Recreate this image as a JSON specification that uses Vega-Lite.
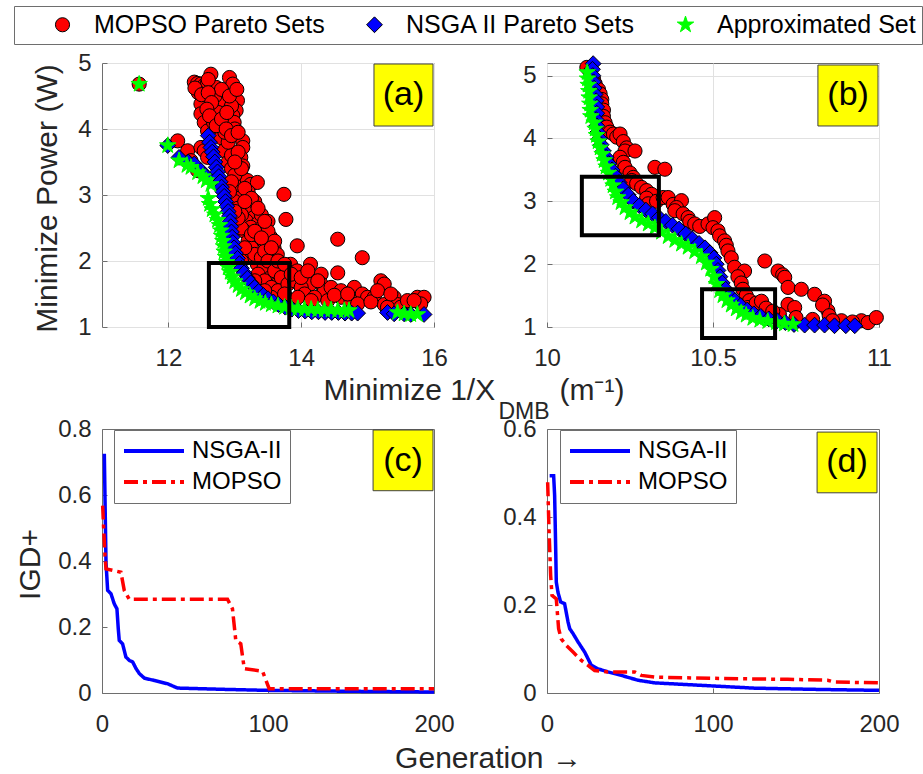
{
  "$schema": "https://vega.github.io/schema/vega-lite/v6.json",
  "background": "white",
  "padding": {"left": 13, "top": 5, "right": 0, "bottom": 0},
  "bounds": "flush",
  "columns": 2,
  "spacing": {"row": 102, "column": 113},
  "resolve": {"scale": {"color": "independent", "shape": "independent", "size": "independent", "stroke": "independent", "strokeDash": "independent"}},
  "config": {
    "font": "Liberation Sans",
    "view": {"stroke": "#6e6e6e", "strokeWidth": 1},
    "axis": {"domain": false, "grid": false, "gridColor": "#e1e1e1", "gridWidth": 1, "labelFont": "Liberation Sans", "labelFontSize": 24, "labelColor": "#262626", "labelFlush": false, "labelOverlap": false, "tickColor": "#6e6e6e", "tickSize": -5, "tickWidth": 1, "titleFont": "Liberation Sans", "titleFontSize": 30, "titleFontWeight": "normal", "titleColor": "#262626"},
    "axisX": {"labelPadding": 24},
    "axisY": {"labelPadding": 16}
  },
  "datasets": {
    "pa": [
      {"x":11.56,"y":4.68,"s":"M"},{"x":12.39,"y":4.71,"s":"M"},{"x":12.44,"y":4.69,"s":"M"},{"x":12.49,"y":4.68,"s":"M"},{"x":12.54,"y":4.66,"s":"M"},{"x":12.64,"y":4.83,"s":"M"},{"x":12.59,"y":4.70,"s":"M"},{"x":12.72,"y":4.63,"s":"M"},{"x":12.77,"y":4.43,"s":"M"},{"x":12.92,"y":4.78,"s":"M"},{"x":12.97,"y":4.68,"s":"M"},{"x":13.04,"y":4.43,"s":"M"},{"x":13.02,"y":4.28,"s":"M"},{"x":12.49,"y":4.38,"s":"M"},{"x":12.49,"y":4.23,"s":"M"},{"x":12.54,"y":4.10,"s":"M"},{"x":12.97,"y":4.20,"s":"M"},{"x":12.99,"y":4.10,"s":"M"},{"x":12.59,"y":3.97,"s":"M"},{"x":12.64,"y":3.87,"s":"M"},{"x":12.79,"y":3.87,"s":"M"},{"x":13.12,"y":3.82,"s":"M"},{"x":13.12,"y":3.72,"s":"M"},{"x":12.84,"y":3.67,"s":"M"},{"x":13.09,"y":3.57,"s":"M"},{"x":13.12,"y":3.44,"s":"M"},{"x":13.09,"y":3.32,"s":"M"},{"x":13.04,"y":3.22,"s":"M"},{"x":13.19,"y":3.22,"s":"M"},{"x":13.24,"y":3.16,"s":"M"},{"x":13.34,"y":3.19,"s":"M"},{"x":12.99,"y":3.06,"s":"M"},{"x":13.09,"y":2.96,"s":"M"},{"x":13.19,"y":2.86,"s":"M"},{"x":13.24,"y":2.76,"s":"M"},{"x":13.29,"y":2.66,"s":"M"},{"x":13.17,"y":2.61,"s":"M"},{"x":13.34,"y":2.56,"s":"M"},{"x":13.24,"y":2.51,"s":"M"},{"x":13.34,"y":2.36,"s":"M"},{"x":13.44,"y":2.30,"s":"M"},{"x":13.54,"y":2.36,"s":"M"},{"x":13.59,"y":2.20,"s":"M"},{"x":13.64,"y":2.10,"s":"M"},{"x":13.74,"y":3.01,"s":"M"},{"x":13.77,"y":2.63,"s":"M"},{"x":13.94,"y":2.23,"s":"M"},{"x":14.55,"y":2.33,"s":"M"},{"x":14.92,"y":2.05,"s":"M"},{"x":13.19,"y":2.05,"s":"M"},{"x":13.34,"y":1.95,"s":"M"},{"x":13.44,"y":1.90,"s":"M"},{"x":13.54,"y":1.75,"s":"M"},{"x":13.64,"y":1.65,"s":"M"},{"x":13.74,"y":1.85,"s":"M"},{"x":13.84,"y":1.95,"s":"M"},{"x":13.94,"y":1.85,"s":"M"},{"x":14.14,"y":1.95,"s":"M"},{"x":14.30,"y":1.80,"s":"M"},{"x":14.55,"y":1.82,"s":"M"},{"x":14.30,"y":1.65,"s":"M"},{"x":14.14,"y":1.65,"s":"M"},{"x":14.35,"y":1.55,"s":"M"},{"x":14.80,"y":1.60,"s":"M"},{"x":14.92,"y":1.50,"s":"M"},{"x":15.00,"y":1.45,"s":"M"},{"x":15.20,"y":1.70,"s":"M"},{"x":15.25,"y":1.65,"s":"M"},{"x":15.10,"y":1.45,"s":"M"},{"x":15.25,"y":1.34,"s":"M"},{"x":15.40,"y":1.45,"s":"M"},{"x":15.45,"y":1.34,"s":"M"},{"x":15.75,"y":1.45,"s":"M"},{"x":15.85,"y":1.45,"s":"M"},{"x":12.14,"y":3.82,"s":"M"},{"x":12.29,"y":3.67,"s":"M"},{"x":12.34,"y":3.52,"s":"M"},{"x":12.44,"y":3.37,"s":"M"},{"x":12.49,"y":3.72,"s":"M"},{"x":12.54,"y":3.67,"s":"M"},{"x":12.59,"y":3.57,"s":"M"},{"x":12.90,"y":3.50,"s":"M"},{"x":12.95,"y":3.40,"s":"M"},{"x":13.00,"y":3.30,"s":"M"},{"x":12.95,"y":3.60,"s":"M"},{"x":12.90,"y":3.80,"s":"M"},{"x":12.85,"y":3.95,"s":"M"},{"x":13.00,"y":2.90,"s":"M"},{"x":13.05,"y":2.80,"s":"M"},{"x":13.10,"y":2.70,"s":"M"},{"x":13.15,"y":2.45,"s":"M"},{"x":13.20,"y":2.30,"s":"M"},{"x":13.25,"y":2.20,"s":"M"},{"x":13.30,"y":2.10,"s":"M"},{"x":13.40,"y":2.05,"s":"M"},{"x":13.10,"y":2.50,"s":"M"},{"x":13.05,"y":2.65,"s":"M"},{"x":13.00,"y":2.75,"s":"M"},{"x":13.25,"y":2.40,"s":"M"},{"x":13.45,"y":2.15,"s":"M"},{"x":13.50,"y":2.00,"s":"M"},{"x":13.35,"y":1.80,"s":"M"},{"x":13.45,"y":1.70,"s":"M"},{"x":13.55,"y":1.60,"s":"M"},{"x":13.60,"y":1.85,"s":"M"},{"x":13.70,"y":1.75,"s":"M"},{"x":13.65,"y":1.55,"s":"M"},{"x":13.80,"y":1.65,"s":"M"},{"x":13.90,"y":1.70,"s":"M"},{"x":14.00,"y":1.60,"s":"M"},{"x":14.05,"y":1.50,"s":"M"},{"x":14.20,"y":1.45,"s":"M"},{"x":14.40,"y":1.40,"s":"M"},{"x":14.60,"y":1.45,"s":"M"},{"x":14.75,"y":1.40,"s":"M"},{"x":14.85,"y":1.35,"s":"M"},{"x":15.05,"y":1.38,"s":"M"},{"x":15.30,"y":1.30,"s":"M"},{"x":15.50,"y":1.30,"s":"M"},{"x":15.80,"y":1.35,"s":"M"},{"x":13.00,"y":4.00,"s":"M"},{"x":12.95,"y":4.35,"s":"M"},{"x":12.75,"y":4.25,"s":"M"},{"x":12.70,"y":4.50,"s":"M"},{"x":12.68,"y":4.10,"s":"M"},{"x":12.80,"y":4.60,"s":"M"},{"x":12.60,"y":4.75,"s":"M"},{"x":12.45,"y":4.55,"s":"M"},{"x":13.10,"y":3.40,"s":"M"},{"x":13.20,"y":3.05,"s":"M"},{"x":13.30,"y":2.90,"s":"M"},{"x":13.40,"y":2.70,"s":"M"},{"x":13.50,"y":2.60,"s":"M"},{"x":13.40,"y":2.50,"s":"M"},{"x":13.15,"y":2.20,"s":"M"},{"x":13.10,"y":2.00,"s":"M"},{"x":13.30,"y":1.70,"s":"M"},{"x":13.50,"y":2.45,"s":"M"},{"x":13.60,"y":2.30,"s":"M"},{"x":12.40,"y":4.62,"s":"M"},{"x":12.50,"y":4.52,"s":"M"},{"x":12.60,"y":4.55,"s":"M"},{"x":12.65,"y":4.40,"s":"M"},{"x":12.58,"y":4.30,"s":"M"},{"x":12.62,"y":4.20,"s":"M"},{"x":12.72,"y":4.05,"s":"M"},{"x":12.80,"y":4.15,"s":"M"},{"x":12.88,"y":4.25,"s":"M"},{"x":12.92,"y":4.50,"s":"M"},{"x":13.03,"y":4.60,"s":"M"},{"x":12.87,"y":4.00,"s":"M"},{"x":12.95,"y":3.90,"s":"M"},{"x":13.05,"y":3.95,"s":"M"},{"x":13.05,"y":3.65,"s":"M"},{"x":13.00,"y":3.50,"s":"M"},{"x":12.95,"y":3.20,"s":"M"},{"x":12.92,"y":3.05,"s":"M"},{"x":13.15,"y":3.10,"s":"M"},{"x":13.25,"y":2.95,"s":"M"},{"x":13.15,"y":2.90,"s":"M"},{"x":13.35,"y":2.80,"s":"M"},{"x":13.45,"y":2.60,"s":"M"},{"x":13.30,"y":2.45,"s":"M"},{"x":13.40,"y":2.35,"s":"M"},{"x":13.55,"y":2.20,"s":"M"},{"x":13.65,"y":2.00,"s":"M"},{"x":13.75,"y":1.95,"s":"M"},{"x":13.85,"y":1.80,"s":"M"},{"x":14.00,"y":1.75,"s":"M"},{"x":14.10,"y":1.85,"s":"M"},{"x":14.25,"y":1.70,"s":"M"},{"x":14.45,"y":1.60,"s":"M"},{"x":14.60,"y":1.55,"s":"M"},{"x":14.50,"y":1.48,"s":"M"},{"x":14.70,"y":1.50,"s":"M"},{"x":15.15,"y":1.55,"s":"M"},{"x":15.35,"y":1.50,"s":"M"},{"x":15.60,"y":1.40,"s":"M"},{"x":15.70,"y":1.40,"s":"M"},{"x":13.55,"y":1.45,"s":"M"},{"x":13.75,"y":1.50,"s":"M"},{"x":13.45,"y":1.55,"s":"M"},{"x":13.95,"y":1.45,"s":"M"},{"x":14.15,"y":1.40,"s":"M"},
      {"x":11.99,"y":3.75,"s":"N"},{"x":12.16,"y":3.57,"s":"N"},{"x":12.30,"y":3.50,"s":"N"},{"x":12.39,"y":3.47,"s":"N"},{"x":12.49,"y":3.37,"s":"N"},{"x":12.55,"y":3.30,"s":"N"},{"x":12.60,"y":3.90,"s":"N"},{"x":12.62,"y":3.80,"s":"N"},{"x":12.64,"y":3.72,"s":"N"},{"x":12.66,"y":3.65,"s":"N"},{"x":12.68,"y":3.58,"s":"N"},{"x":12.70,"y":3.50,"s":"N"},{"x":12.72,"y":3.42,"s":"N"},{"x":12.74,"y":3.35,"s":"N"},{"x":12.76,"y":3.28,"s":"N"},{"x":12.78,"y":3.20,"s":"N"},{"x":12.80,"y":3.12,"s":"N"},{"x":12.82,"y":3.05,"s":"N"},{"x":12.84,"y":2.98,"s":"N"},{"x":12.86,"y":2.90,"s":"N"},{"x":12.88,"y":2.83,"s":"N"},{"x":12.90,"y":2.75,"s":"N"},{"x":12.92,"y":2.68,"s":"N"},{"x":12.93,"y":2.60,"s":"N"},{"x":12.94,"y":2.52,"s":"N"},{"x":12.95,"y":2.44,"s":"N"},{"x":12.96,"y":2.36,"s":"N"},{"x":12.97,"y":2.28,"s":"N"},{"x":12.99,"y":2.20,"s":"N"},{"x":13.01,"y":2.12,"s":"N"},{"x":13.04,"y":2.04,"s":"N"},{"x":13.07,"y":1.96,"s":"N"},{"x":13.10,"y":1.89,"s":"N"},{"x":13.14,"y":1.82,"s":"N"},{"x":13.19,"y":1.74,"s":"N"},{"x":13.24,"y":1.67,"s":"N"},{"x":13.30,"y":1.60,"s":"N"},{"x":13.36,"y":1.54,"s":"N"},{"x":13.43,"y":1.48,"s":"N"},{"x":13.50,"y":1.43,"s":"N"},{"x":13.58,"y":1.38,"s":"N"},{"x":13.66,"y":1.34,"s":"N"},{"x":13.76,"y":1.30,"s":"N"},{"x":13.86,"y":1.27,"s":"N"},{"x":13.96,"y":1.25,"s":"N"},{"x":14.06,"y":1.24,"s":"N"},{"x":14.16,"y":1.23,"s":"N"},{"x":14.26,"y":1.23,"s":"N"},{"x":14.36,"y":1.22,"s":"N"},{"x":14.46,"y":1.22,"s":"N"},{"x":14.56,"y":1.22,"s":"N"},{"x":14.66,"y":1.21,"s":"N"},{"x":14.76,"y":1.21,"s":"N"},{"x":14.85,"y":1.21,"s":"N"},{"x":15.30,"y":1.22,"s":"N"},{"x":15.40,"y":1.20,"s":"N"},{"x":15.55,"y":1.20,"s":"N"},{"x":15.65,"y":1.19,"s":"N"},{"x":15.85,"y":1.19,"s":"N"},
      {"x":11.56,"y":4.68,"s":"A"},{"x":11.99,"y":3.75,"s":"A"},{"x":12.16,"y":3.52,"s":"A"},{"x":12.28,"y":3.45,"s":"A"},{"x":12.34,"y":3.42,"s":"A"},{"x":12.44,"y":3.34,"s":"A"},{"x":12.52,"y":3.28,"s":"A"},{"x":12.57,"y":3.22,"s":"A"},{"x":12.64,"y":3.16,"s":"A"},{"x":12.60,"y":2.95,"s":"A"},{"x":12.62,"y":2.86,"s":"A"},{"x":12.66,"y":2.78,"s":"A"},{"x":12.70,"y":2.70,"s":"A"},{"x":12.74,"y":2.62,"s":"A"},{"x":12.77,"y":2.54,"s":"A"},{"x":12.79,"y":2.46,"s":"A"},{"x":12.80,"y":2.38,"s":"A"},{"x":12.82,"y":2.30,"s":"A"},{"x":12.83,"y":2.22,"s":"A"},{"x":12.84,"y":2.14,"s":"A"},{"x":12.86,"y":2.06,"s":"A"},{"x":12.88,"y":1.98,"s":"A"},{"x":12.90,"y":1.90,"s":"A"},{"x":12.93,"y":1.83,"s":"A"},{"x":12.96,"y":1.76,"s":"A"},{"x":13.00,"y":1.69,"s":"A"},{"x":13.05,"y":1.63,"s":"A"},{"x":13.10,"y":1.57,"s":"A"},{"x":13.16,"y":1.52,"s":"A"},{"x":13.23,"y":1.47,"s":"A"},{"x":13.30,"y":1.43,"s":"A"},{"x":13.38,"y":1.39,"s":"A"},{"x":13.46,"y":1.36,"s":"A"},{"x":13.55,"y":1.34,"s":"A"},{"x":13.65,"y":1.32,"s":"A"},{"x":13.75,"y":1.30,"s":"A"},{"x":13.85,"y":1.29,"s":"A"},{"x":13.95,"y":1.28,"s":"A"},{"x":14.05,"y":1.27,"s":"A"},{"x":14.15,"y":1.27,"s":"A"},{"x":14.25,"y":1.26,"s":"A"},{"x":14.35,"y":1.26,"s":"A"},{"x":14.45,"y":1.26,"s":"A"},{"x":14.55,"y":1.25,"s":"A"},{"x":14.65,"y":1.25,"s":"A"},{"x":14.72,"y":1.25,"s":"A"},{"x":15.45,"y":1.22,"s":"A"},{"x":15.55,"y":1.20,"s":"A"},{"x":15.65,"y":1.19,"s":"A"},{"x":15.75,"y":1.19,"s":"A"}
    ],
    "pb": [
      {"x":10.120,"y":5.13,"s":"M"},{"x":10.130,"y":5.05,"s":"M"},{"x":10.140,"y":4.95,"s":"M"},{"x":10.145,"y":4.87,"s":"M"},{"x":10.155,"y":4.78,"s":"M"},{"x":10.160,"y":4.71,"s":"M"},{"x":10.165,"y":4.62,"s":"M"},{"x":10.165,"y":4.55,"s":"M"},{"x":10.170,"y":4.45,"s":"M"},{"x":10.170,"y":4.35,"s":"M"},{"x":10.175,"y":4.25,"s":"M"},{"x":10.180,"y":4.18,"s":"M"},{"x":10.190,"y":4.10,"s":"M"},{"x":10.200,"y":4.07,"s":"M"},{"x":10.210,"y":4.02,"s":"M"},{"x":10.220,"y":4.07,"s":"M"},{"x":10.230,"y":3.95,"s":"M"},{"x":10.240,"y":3.85,"s":"M"},{"x":10.235,"y":3.80,"s":"M"},{"x":10.265,"y":3.80,"s":"M"},{"x":10.220,"y":3.70,"s":"M"},{"x":10.230,"y":3.62,"s":"M"},{"x":10.235,"y":3.54,"s":"M"},{"x":10.325,"y":3.54,"s":"M"},{"x":10.355,"y":3.51,"s":"M"},{"x":10.250,"y":3.45,"s":"M"},{"x":10.260,"y":3.38,"s":"M"},{"x":10.255,"y":3.33,"s":"M"},{"x":10.270,"y":3.28,"s":"M"},{"x":10.285,"y":3.22,"s":"M"},{"x":10.300,"y":3.17,"s":"M"},{"x":10.315,"y":3.11,"s":"M"},{"x":10.300,"y":3.05,"s":"M"},{"x":10.305,"y":2.96,"s":"M"},{"x":10.330,"y":3.00,"s":"M"},{"x":10.350,"y":3.06,"s":"M"},{"x":10.365,"y":3.06,"s":"M"},{"x":10.380,"y":2.95,"s":"M"},{"x":10.405,"y":3.01,"s":"M"},{"x":10.390,"y":2.90,"s":"M"},{"x":10.385,"y":2.85,"s":"M"},{"x":10.410,"y":2.80,"s":"M"},{"x":10.425,"y":2.74,"s":"M"},{"x":10.430,"y":2.68,"s":"M"},{"x":10.445,"y":2.64,"s":"M"},{"x":10.460,"y":2.60,"s":"M"},{"x":10.485,"y":2.64,"s":"M"},{"x":10.505,"y":2.74,"s":"M"},{"x":10.500,"y":2.58,"s":"M"},{"x":10.515,"y":2.53,"s":"M"},{"x":10.520,"y":2.45,"s":"M"},{"x":10.535,"y":2.37,"s":"M"},{"x":10.540,"y":2.30,"s":"M"},{"x":10.545,"y":2.21,"s":"M"},{"x":10.555,"y":2.10,"s":"M"},{"x":10.565,"y":1.95,"s":"M"},{"x":10.595,"y":1.89,"s":"M"},{"x":10.575,"y":1.80,"s":"M"},{"x":10.585,"y":1.70,"s":"M"},{"x":10.590,"y":1.60,"s":"M"},{"x":10.600,"y":1.50,"s":"M"},{"x":10.610,"y":1.42,"s":"M"},{"x":10.575,"y":1.36,"s":"M"},{"x":10.605,"y":1.31,"s":"M"},{"x":10.630,"y":1.38,"s":"M"},{"x":10.646,"y":1.41,"s":"M"},{"x":10.660,"y":1.30,"s":"M"},{"x":10.656,"y":2.05,"s":"M"},{"x":10.696,"y":1.89,"s":"M"},{"x":10.710,"y":1.83,"s":"M"},{"x":10.716,"y":1.79,"s":"M"},{"x":10.726,"y":1.63,"s":"M"},{"x":10.726,"y":1.36,"s":"M"},{"x":10.746,"y":1.31,"s":"M"},{"x":10.766,"y":1.60,"s":"M"},{"x":10.806,"y":1.52,"s":"M"},{"x":10.836,"y":1.41,"s":"M"},{"x":10.846,"y":1.26,"s":"M"},{"x":10.830,"y":1.35,"s":"M"},{"x":10.850,"y":1.18,"s":"M"},{"x":10.887,"y":1.10,"s":"M"},{"x":10.947,"y":1.10,"s":"M"},{"x":10.967,"y":1.07,"s":"M"},{"x":10.992,"y":1.15,"s":"M"},{"x":10.920,"y":1.08,"s":"M"},{"x":10.860,"y":1.10,"s":"M"},{"x":10.800,"y":1.12,"s":"M"},{"x":10.750,"y":1.15,"s":"M"},{"x":10.700,"y":1.20,"s":"M"},{"x":10.680,"y":1.25,"s":"M"},
      {"x":10.139,"y":5.19,"s":"N"},{"x":10.137,"y":5.10,"s":"N"},{"x":10.138,"y":5.00,"s":"N"},{"x":10.140,"y":4.90,"s":"N"},{"x":10.142,"y":4.80,"s":"N"},{"x":10.145,"y":4.70,"s":"N"},{"x":10.148,"y":4.60,"s":"N"},{"x":10.150,"y":4.50,"s":"N"},{"x":10.150,"y":4.40,"s":"N"},{"x":10.148,"y":4.30,"s":"N"},{"x":10.150,"y":4.20,"s":"N"},{"x":10.153,"y":4.10,"s":"N"},{"x":10.158,"y":4.00,"s":"N"},{"x":10.163,"y":3.90,"s":"N"},{"x":10.170,"y":3.80,"s":"N"},{"x":10.178,"y":3.70,"s":"N"},{"x":10.186,"y":3.60,"s":"N"},{"x":10.196,"y":3.50,"s":"N"},{"x":10.206,"y":3.40,"s":"N"},{"x":10.217,"y":3.30,"s":"N"},{"x":10.230,"y":3.20,"s":"N"},{"x":10.245,"y":3.10,"s":"N"},{"x":10.260,"y":3.00,"s":"N"},{"x":10.278,"y":2.93,"s":"N"},{"x":10.298,"y":2.86,"s":"N"},{"x":10.318,"y":2.80,"s":"N"},{"x":10.338,"y":2.74,"s":"N"},{"x":10.358,"y":2.68,"s":"N"},{"x":10.378,"y":2.62,"s":"N"},{"x":10.398,"y":2.56,"s":"N"},{"x":10.418,"y":2.48,"s":"N"},{"x":10.438,"y":2.40,"s":"N"},{"x":10.458,"y":2.33,"s":"N"},{"x":10.476,"y":2.26,"s":"N"},{"x":10.491,"y":2.18,"s":"N"},{"x":10.503,"y":2.10,"s":"N"},{"x":10.510,"y":2.00,"s":"N"},{"x":10.515,"y":1.90,"s":"N"},{"x":10.521,"y":1.80,"s":"N"},{"x":10.528,"y":1.70,"s":"N"},{"x":10.538,"y":1.60,"s":"N"},{"x":10.551,"y":1.50,"s":"N"},{"x":10.566,"y":1.42,"s":"N"},{"x":10.583,"y":1.34,"s":"N"},{"x":10.603,"y":1.27,"s":"N"},{"x":10.623,"y":1.21,"s":"N"},{"x":10.644,"y":1.17,"s":"N"},{"x":10.668,"y":1.13,"s":"N"},{"x":10.694,"y":1.10,"s":"N"},{"x":10.718,"y":1.07,"s":"N"},{"x":10.744,"y":1.04,"s":"N"},{"x":10.776,"y":1.03,"s":"N"},{"x":10.806,"y":1.03,"s":"N"},{"x":10.836,"y":1.03,"s":"N"},{"x":10.866,"y":1.02,"s":"N"},{"x":10.900,"y":1.02,"s":"N"},{"x":10.927,"y":1.02,"s":"N"},
      {"x":10.121,"y":5.05,"s":"A"},{"x":10.122,"y":4.95,"s":"A"},{"x":10.124,"y":4.85,"s":"A"},{"x":10.126,"y":4.75,"s":"A"},{"x":10.127,"y":4.65,"s":"A"},{"x":10.129,"y":4.55,"s":"A"},{"x":10.130,"y":4.45,"s":"A"},{"x":10.132,"y":4.35,"s":"A"},{"x":10.142,"y":4.25,"s":"A"},{"x":10.145,"y":4.15,"s":"A"},{"x":10.149,"y":4.05,"s":"A"},{"x":10.154,"y":3.95,"s":"A"},{"x":10.160,"y":3.85,"s":"A"},{"x":10.166,"y":3.75,"s":"A"},{"x":10.172,"y":3.65,"s":"A"},{"x":10.178,"y":3.55,"s":"A"},{"x":10.185,"y":3.45,"s":"A"},{"x":10.192,"y":3.35,"s":"A"},{"x":10.199,"y":3.25,"s":"A"},{"x":10.206,"y":3.15,"s":"A"},{"x":10.213,"y":3.06,"s":"A"},{"x":10.223,"y":2.98,"s":"A"},{"x":10.235,"y":2.90,"s":"A"},{"x":10.250,"y":2.82,"s":"A"},{"x":10.265,"y":2.75,"s":"A"},{"x":10.285,"y":2.69,"s":"A"},{"x":10.305,"y":2.64,"s":"A"},{"x":10.325,"y":2.58,"s":"A"},{"x":10.345,"y":2.51,"s":"A"},{"x":10.365,"y":2.44,"s":"A"},{"x":10.385,"y":2.38,"s":"A"},{"x":10.405,"y":2.32,"s":"A"},{"x":10.425,"y":2.27,"s":"A"},{"x":10.445,"y":2.20,"s":"A"},{"x":10.465,"y":2.12,"s":"A"},{"x":10.480,"y":2.02,"s":"A"},{"x":10.493,"y":1.92,"s":"A"},{"x":10.503,"y":1.80,"s":"A"},{"x":10.510,"y":1.68,"s":"A"},{"x":10.520,"y":1.58,"s":"A"},{"x":10.530,"y":1.50,"s":"A"},{"x":10.542,"y":1.42,"s":"A"},{"x":10.555,"y":1.35,"s":"A"},{"x":10.570,"y":1.29,"s":"A"},{"x":10.585,"y":1.23,"s":"A"},{"x":10.600,"y":1.19,"s":"A"},{"x":10.620,"y":1.14,"s":"A"},{"x":10.641,"y":1.11,"s":"A"},{"x":10.665,"y":1.09,"s":"A"},{"x":10.691,"y":1.07,"s":"A"},{"x":10.715,"y":1.05,"s":"A"},{"x":10.741,"y":1.04,"s":"A"}
    ],
    "lc": [
      {"g":1.4,"v":0.725,"a":"NSGA-II"},{"g":2.4,"v":0.397,"a":"NSGA-II"},{"g":3.4,"v":0.311,"a":"NSGA-II"},{"g":5.4,"v":0.301,"a":"NSGA-II"},{"g":7.4,"v":0.27,"a":"NSGA-II"},{"g":9.0,"v":0.255,"a":"NSGA-II"},{"g":9.8,"v":0.195,"a":"NSGA-II"},{"g":10.4,"v":0.159,"a":"NSGA-II"},{"g":12.4,"v":0.149,"a":"NSGA-II"},{"g":14.4,"v":0.109,"a":"NSGA-II"},{"g":16.4,"v":0.099,"a":"NSGA-II"},{"g":18.5,"v":0.094,"a":"NSGA-II"},{"g":20.5,"v":0.074,"a":"NSGA-II"},{"g":22.5,"v":0.059,"a":"NSGA-II"},{"g":25.5,"v":0.045,"a":"NSGA-II"},{"g":31.5,"v":0.038,"a":"NSGA-II"},{"g":39.5,"v":0.028,"a":"NSGA-II"},{"g":45.5,"v":0.015,"a":"NSGA-II"},{"g":73.6,"v":0.011,"a":"NSGA-II"},{"g":99.7,"v":0.008,"a":"NSGA-II"},{"g":154,"v":0.005,"a":"NSGA-II"},{"g":200,"v":0.003,"a":"NSGA-II"},
      {"g":0.4,"v":0.568,"a":"MOPSO"},{"g":1.0,"v":0.497,"a":"MOPSO"},{"g":1.8,"v":0.417,"a":"MOPSO"},{"g":2.4,"v":0.376,"a":"MOPSO"},{"g":11.4,"v":0.366,"a":"MOPSO"},{"g":13.4,"v":0.311,"a":"MOPSO"},{"g":16.4,"v":0.284,"a":"MOPSO"},{"g":75.6,"v":0.284,"a":"MOPSO"},{"g":78.6,"v":0.255,"a":"MOPSO"},{"g":80.6,"v":0.159,"a":"MOPSO"},{"g":83.6,"v":0.149,"a":"MOPSO"},{"g":85.7,"v":0.074,"a":"MOPSO"},{"g":96.7,"v":0.066,"a":"MOPSO"},{"g":100.7,"v":0.013,"a":"MOPSO"},{"g":200,"v":0.013,"a":"MOPSO"}
    ],
    "ld": [
      {"g":1.6,"v":0.494,"a":"NSGA-II"},{"g":4.0,"v":0.494,"a":"NSGA-II"},{"g":4.6,"v":0.449,"a":"NSGA-II"},{"g":5.2,"v":0.335,"a":"NSGA-II"},{"g":5.6,"v":0.252,"a":"NSGA-II"},{"g":6.6,"v":0.229,"a":"NSGA-II"},{"g":8.2,"v":0.207,"a":"NSGA-II"},{"g":10.6,"v":0.203,"a":"NSGA-II"},{"g":12.7,"v":0.161,"a":"NSGA-II"},{"g":13.7,"v":0.146,"a":"NSGA-II"},{"g":15.7,"v":0.135,"a":"NSGA-II"},{"g":18.7,"v":0.116,"a":"NSGA-II"},{"g":22.7,"v":0.093,"a":"NSGA-II"},{"g":26.7,"v":0.063,"a":"NSGA-II"},{"g":30.7,"v":0.055,"a":"NSGA-II"},{"g":36.7,"v":0.048,"a":"NSGA-II"},{"g":44.8,"v":0.040,"a":"NSGA-II"},{"g":54.8,"v":0.029,"a":"NSGA-II"},{"g":64.9,"v":0.023,"a":"NSGA-II"},{"g":84.9,"v":0.019,"a":"NSGA-II"},{"g":105,"v":0.015,"a":"NSGA-II"},{"g":125,"v":0.011,"a":"NSGA-II"},{"g":165,"v":0.008,"a":"NSGA-II"},{"g":200,"v":0.006,"a":"NSGA-II"},
      {"g":0.4,"v":0.479,"a":"MOPSO"},{"g":1.2,"v":0.373,"a":"MOPSO"},{"g":2.2,"v":0.267,"a":"MOPSO"},{"g":3.0,"v":0.222,"a":"MOPSO"},{"g":5.6,"v":0.214,"a":"MOPSO"},{"g":7.0,"v":0.146,"a":"MOPSO"},{"g":8.6,"v":0.123,"a":"MOPSO"},{"g":11.6,"v":0.108,"a":"MOPSO"},{"g":15.7,"v":0.093,"a":"MOPSO"},{"g":20.7,"v":0.074,"a":"MOPSO"},{"g":24.7,"v":0.063,"a":"MOPSO"},{"g":28.7,"v":0.051,"a":"MOPSO"},{"g":36.7,"v":0.048,"a":"MOPSO"},{"g":52.8,"v":0.048,"a":"MOPSO"},{"g":56.8,"v":0.040,"a":"MOPSO"},{"g":64.9,"v":0.036,"a":"MOPSO"},{"g":105,"v":0.033,"a":"MOPSO"},{"g":145,"v":0.031,"a":"MOPSO"},{"g":169,"v":0.029,"a":"MOPSO"},{"g":173,"v":0.025,"a":"MOPSO"},{"g":200,"v":0.023,"a":"MOPSO"}
    ]
  },
  "concat": [
    {
      "width": 332, "height": 264,
      "layer": [
        {
          "data": {"name": "pa"},
          "mark": {"type": "point", "filled": true, "opacity": 1, "strokeWidth": 1},
          "encoding": {
            "x": {"field": "x", "type": "quantitative", "scale": {"domain": [11, 16], "nice": false, "zero": false}, "axis": {"values": [12, 14, 16], "format": "d", "grid": true, "title": "Minimize 1/X", "titleX": 221, "titleY": 72, "titleAlign": "left", "titleBaseline": "alphabetic"}},
            "y": {"field": "y", "type": "quantitative", "scale": {"domain": [1, 5], "nice": false, "zero": false}, "axis": {"values": [1, 2, 3, 4, 5], "format": "d", "grid": true, "title": "Minimize Power (W)", "titleX": -46, "titleY": 135, "titleAngle": 270, "titleAlign": "center", "titleBaseline": "alphabetic"}},
            "color": {"field": "s", "type": "nominal", "scale": {"domain": ["M", "N", "A"], "range": ["#ff0000", "#0000ff", "#00ff00"]},
              "legend": {"orient": "none", "legendX": -88, "legendY": -57, "direction": "horizontal", "columns": 3, "title": null, "padding": 6, "strokeColor": "#6e6e6e", "fillColor": "white", "labelFont": "Liberation Sans", "labelFontSize": 25, "labelColor": "black", "labelLimit": 400, "symbolSize": 150, "symbolOffset": 30, "labelOffset": 19, "columnPadding": 7, "symbolStrokeWidth": 1, "labelExpr": "datum.label == 'M' ? 'MOPSO Pareto Sets' : datum.label == 'N' ? 'NSGA II Pareto Sets' : 'Approximated Set'"}},
            "shape": {"field": "s", "type": "nominal", "scale": {"domain": ["M", "N", "A"], "range": ["circle", "diamond", "M0,-1L0.2245,-0.309L0.951,-0.309L0.3633,0.118L0.588,0.809L0,0.382L-0.588,0.809L-0.3633,0.118L-0.951,-0.309L-0.2245,-0.309Z"]},
              "legend": {"orient": "none", "legendX": -88, "legendY": -57, "direction": "horizontal", "columns": 3, "title": null, "padding": 6, "strokeColor": "#6e6e6e", "fillColor": "white", "labelFont": "Liberation Sans", "labelFontSize": 25, "labelColor": "black", "labelLimit": 400, "symbolSize": 150, "symbolOffset": 30, "labelOffset": 19, "columnPadding": 7, "symbolStrokeWidth": 1, "labelExpr": "datum.label == 'M' ? 'MOPSO Pareto Sets' : datum.label == 'N' ? 'NSGA II Pareto Sets' : 'Approximated Set'"}},
            "stroke": {"field": "s", "type": "nominal", "scale": {"domain": ["M", "N", "A"], "range": ["#000000", "#000000", "#00ff00"]},
              "legend": {"orient": "none", "legendX": -88, "legendY": -57, "direction": "horizontal", "columns": 3, "title": null, "padding": 6, "strokeColor": "#6e6e6e", "fillColor": "white", "labelFont": "Liberation Sans", "labelFontSize": 25, "labelColor": "black", "labelLimit": 400, "symbolSize": 150, "symbolOffset": 30, "labelOffset": 19, "columnPadding": 7, "symbolStrokeWidth": 1, "labelExpr": "datum.label == 'M' ? 'MOPSO Pareto Sets' : datum.label == 'N' ? 'NSGA II Pareto Sets' : 'Approximated Set'"}},
            "size": {"field": "s", "type": "nominal", "scale": {"domain": ["M", "N", "A"], "range": [200, 300, 260]}, "legend": null}
          }
        },
        {
          "data": {"values": [{"x": 12.61, "x2": 13.82, "y": 1.0, "y2": 1.97}]},
          "mark": {"type": "rect", "fillOpacity": 0, "stroke": "black", "strokeWidth": 4},
          "encoding": {"x": {"field": "x", "type": "quantitative"}, "x2": {"field": "x2"}, "y": {"field": "y", "type": "quantitative"}, "y2": {"field": "y2"}}
        },
        {
          "data": {"values": [{"x": 15.096, "x2": 15.985, "y": 4.985, "y2": 4.045}]},
          "mark": {"type": "rect", "fill": "#ffff00", "stroke": "#404040", "strokeWidth": 1},
          "encoding": {"x": {"field": "x", "type": "quantitative"}, "x2": {"field": "x2"}, "y": {"field": "y", "type": "quantitative"}, "y2": {"field": "y2"}}
        },
        {
          "data": {"values": [{"x": 15.54, "y": 4.515, "t": "(a)"}]},
          "mark": {"type": "text", "fontSize": 34, "font": "Liberation Sans", "color": "black", "align": "center", "baseline": "middle"},
          "encoding": {"x": {"field": "x", "type": "quantitative"}, "y": {"field": "y", "type": "quantitative"}, "text": {"field": "t"}}
        }
      ]
    },
    {
      "width": 332, "height": 264,
      "layer": [
        {
          "data": {"name": "pb"},
          "mark": {"type": "point", "filled": true, "opacity": 1, "strokeWidth": 1},
          "encoding": {
            "x": {"field": "x", "type": "quantitative", "scale": {"domain": [10, 11], "nice": false, "zero": false}, "axis": {"values": [10, 10.5, 11], "format": "~g", "grid": true, "title": "DMB", "titleFontSize": 23, "titleX": -49, "titleY": 91, "titleAlign": "left", "titleBaseline": "alphabetic"}},
            "y": {"field": "y", "type": "quantitative", "scale": {"domain": [1, 5.2], "nice": false, "zero": false}, "axis": {"values": [1, 2, 3, 4, 5], "format": "d", "grid": true, "title": "(m⁻¹)", "titleX": 12, "titleY": 336, "titleAngle": 0, "titleAlign": "left", "titleBaseline": "alphabetic"}},
            "color": {"field": "s", "type": "nominal", "scale": {"domain": ["M", "N", "A"], "range": ["#ff0000", "#0000ff", "#00ff00"]}, "legend": null},
            "shape": {"field": "s", "type": "nominal", "scale": {"domain": ["M", "N", "A"], "range": ["circle", "diamond", "M0,-1L0.2245,-0.309L0.951,-0.309L0.3633,0.118L0.588,0.809L0,0.382L-0.588,0.809L-0.3633,0.118L-0.951,-0.309L-0.2245,-0.309Z"]}, "legend": null},
            "stroke": {"field": "s", "type": "nominal", "scale": {"domain": ["M", "N", "A"], "range": ["#000000", "#000000", "#00ff00"]}, "legend": null},
            "size": {"field": "s", "type": "nominal", "scale": {"domain": ["M", "N", "A"], "range": [200, 300, 260]}, "legend": null}
          }
        },
        {
          "data": {"values": [{"x": 10.105, "x2": 10.337, "y": 2.46, "y2": 3.39}, {"x": 10.467, "x2": 10.687, "y": 0.825, "y2": 1.6}]},
          "mark": {"type": "rect", "fillOpacity": 0, "stroke": "black", "strokeWidth": 4},
          "encoding": {"x": {"field": "x", "type": "quantitative"}, "x2": {"field": "x2"}, "y": {"field": "y", "type": "quantitative"}, "y2": {"field": "y2"}}
        },
        {
          "data": {"values": [{"x": 10.816, "x2": 10.997, "y": 5.168, "y2": 4.198}]},
          "mark": {"type": "rect", "fill": "#ffff00", "stroke": "#404040", "strokeWidth": 1},
          "encoding": {"x": {"field": "x", "type": "quantitative"}, "x2": {"field": "x2"}, "y": {"field": "y", "type": "quantitative"}, "y2": {"field": "y2"}}
        },
        {
          "data": {"values": [{"x": 10.907, "y": 4.69, "t": "(b)"}]},
          "mark": {"type": "text", "fontSize": 34, "font": "Liberation Sans", "color": "black", "align": "center", "baseline": "middle"},
          "encoding": {"x": {"field": "x", "type": "quantitative"}, "y": {"field": "y", "type": "quantitative"}, "text": {"field": "t"}}
        }
      ]
    },
    {
      "width": 332, "height": 264,
      "layer": [
        {
          "data": {"name": "lc"},
          "mark": {"type": "line", "strokeWidth": 3.5},
          "encoding": {
            "x": {"field": "g", "type": "quantitative", "scale": {"domain": [0, 200], "nice": false}, "axis": {"values": [0, 100, 200], "format": "d", "title": "Generation →", "titleX": 386, "titleY": 74, "titleAlign": "center", "titleBaseline": "alphabetic"}},
            "y": {"field": "v", "type": "quantitative", "scale": {"domain": [0, 0.8], "nice": false}, "axis": {"values": [0, 0.2, 0.4, 0.6, 0.8], "format": "~g", "title": "IGD+", "titleX": -63, "titleY": 135, "titleAngle": 270, "titleAlign": "center", "titleBaseline": "alphabetic"}},
            "color": {"field": "a", "type": "nominal", "scale": {"domain": ["NSGA-II", "MOPSO"], "range": ["#0000ff", "#ff0000"]},
              "legend": {"orient": "none", "legendX": 12, "legendY": 1, "title": null, "padding": 8, "strokeColor": "#6e6e6e", "fillColor": "white", "labelFont": "Liberation Sans", "labelFontSize": 24, "labelColor": "black", "labelLimit": 300, "symbolType": "stroke", "symbolSize": 3600, "symbolStrokeWidth": 4, "clipHeight": 26, "rowPadding": 5, "labelOffset": 6}},
            "strokeDash": {"field": "a", "type": "nominal", "scale": {"domain": ["NSGA-II", "MOPSO"], "range": [[1, 0], [14, 5, 4, 5]]},
              "legend": {"orient": "none", "legendX": 12, "legendY": 1, "title": null, "padding": 8, "strokeColor": "#6e6e6e", "fillColor": "white", "labelFont": "Liberation Sans", "labelFontSize": 24, "labelColor": "black", "labelLimit": 300, "symbolType": "stroke", "symbolSize": 3600, "symbolStrokeWidth": 4, "clipHeight": 26, "rowPadding": 5, "labelOffset": 6}}
          }
        },
        {
          "data": {"values": [{"g": 163.3, "g2": 199.4, "v": 0.797, "v2": 0.613}]},
          "mark": {"type": "rect", "fill": "#ffff00", "stroke": "#404040", "strokeWidth": 1},
          "encoding": {"x": {"field": "g", "type": "quantitative"}, "x2": {"field": "g2"}, "y": {"field": "v", "type": "quantitative"}, "y2": {"field": "v2"}}
        },
        {
          "data": {"values": [{"g": 181.3, "v": 0.703, "t": "(c)"}]},
          "mark": {"type": "text", "fontSize": 34, "font": "Liberation Sans", "color": "black", "align": "center", "baseline": "middle"},
          "encoding": {"x": {"field": "g", "type": "quantitative"}, "y": {"field": "v", "type": "quantitative"}, "text": {"field": "t"}}
        }
      ]
    },
    {
      "width": 332, "height": 264,
      "layer": [
        {
          "data": {"name": "ld"},
          "mark": {"type": "line", "strokeWidth": 3.5},
          "encoding": {
            "x": {"field": "g", "type": "quantitative", "scale": {"domain": [0, 200], "nice": false}, "axis": {"values": [0, 100, 200], "format": "d", "title": null}},
            "y": {"field": "v", "type": "quantitative", "scale": {"domain": [0, 0.6], "nice": false}, "axis": {"values": [0, 0.2, 0.4, 0.6], "format": "~g", "title": null}},
            "color": {"field": "a", "type": "nominal", "scale": {"domain": ["NSGA-II", "MOPSO"], "range": ["#0000ff", "#ff0000"]},
              "legend": {"orient": "none", "legendX": 13, "legendY": 1, "title": null, "padding": 8, "strokeColor": "#6e6e6e", "fillColor": "white", "labelFont": "Liberation Sans", "labelFontSize": 24, "labelColor": "black", "labelLimit": 300, "symbolType": "stroke", "symbolSize": 3600, "symbolStrokeWidth": 4, "clipHeight": 26, "rowPadding": 5, "labelOffset": 6}},
            "strokeDash": {"field": "a", "type": "nominal", "scale": {"domain": ["NSGA-II", "MOPSO"], "range": [[1, 0], [14, 5, 4, 5]]},
              "legend": {"orient": "none", "legendX": 13, "legendY": 1, "title": null, "padding": 8, "strokeColor": "#6e6e6e", "fillColor": "white", "labelFont": "Liberation Sans", "labelFontSize": 24, "labelColor": "black", "labelLimit": 300, "symbolType": "stroke", "symbolSize": 3600, "symbolStrokeWidth": 4, "clipHeight": 26, "rowPadding": 5, "labelOffset": 6}}
          }
        },
        {
          "data": {"values": [{"g": 162.7, "g2": 198.8, "v": 0.593, "v2": 0.455}]},
          "mark": {"type": "rect", "fill": "#ffff00", "stroke": "#404040", "strokeWidth": 1},
          "encoding": {"x": {"field": "g", "type": "quantitative"}, "x2": {"field": "g2"}, "y": {"field": "v", "type": "quantitative"}, "y2": {"field": "v2"}}
        },
        {
          "data": {"values": [{"g": 180.7, "v": 0.525, "t": "(d)"}]},
          "mark": {"type": "text", "fontSize": 34, "font": "Liberation Sans", "color": "black", "align": "center", "baseline": "middle"},
          "encoding": {"x": {"field": "g", "type": "quantitative"}, "y": {"field": "v", "type": "quantitative"}, "text": {"field": "t"}}
        }
      ]
    }
  ]
}
